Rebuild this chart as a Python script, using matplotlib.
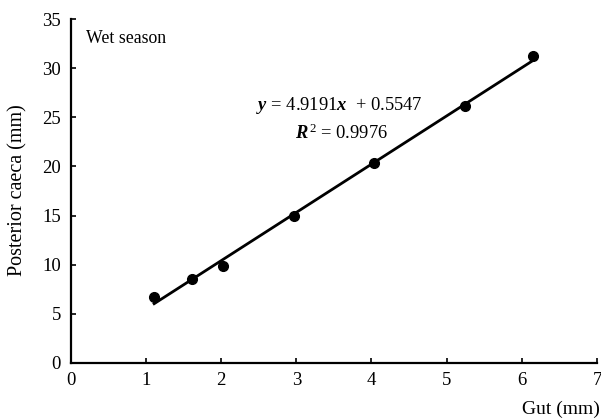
import matplotlib
matplotlib.use("Agg")
import matplotlib.pyplot as plt
import numpy as np

plt.rcParams['font.family'] = ['Liberation Serif', 'DejaVu Serif']
plt.rcParams['mathtext.fontset'] = 'custom'
plt.rcParams['mathtext.rm'] = 'Liberation Serif'
plt.rcParams['mathtext.it'] = 'Liberation Serif:italic'
plt.rcParams['mathtext.bf'] = 'Liberation Serif:bold'
plt.rcParams['mathtext.bfit'] = 'Liberation Serif:bold:italic'

gut = [1.11, 1.61, 2.03, 2.97, 4.04, 5.24, 6.155]
caeca = [6.73, 8.50, 9.89, 14.95, 20.33, 26.17, 31.26]
slope = 4.9191
intercept = 0.5547
r2 = 0.9976
xticks = [0, 1, 2, 3, 4, 5, 6, 7]
yticks = [0, 5, 10, 15, 20, 25, 30, 35]

fig = plt.figure(figsize=(6.01, 4.19), dpi=100)
ax = fig.add_axes([70.7/601, 1-362.7/419, (597-70.7)/601, (362.7-19.3)/419])

ax.plot(gut, caeca, 'o', color='black', markersize=7, zorder=3)
xf = np.array([gut[0], gut[-1]])
ax.plot(xf, slope*xf + intercept, color='black', linewidth=2, zorder=2)

ax.set_xlim(0, 7)
ax.set_ylim(0, 35)
ax.set_xticks(xticks)
ax.set_yticks(yticks)
ax.tick_params(axis='both', direction='in', length=3.5, width=1.2, labelsize=13.5, color='black')
ax.tick_params(axis='x', pad=7)
ax.tick_params(axis='y', pad=7)
for s in ['top', 'right']:
    ax.spines[s].set_visible(False)
for s in ['left', 'bottom']:
    ax.spines[s].set_linewidth(1.6)

fig.text(18/601, 1-190/419, 'Posterior caeca (mm)', rotation=90, ha='center', va='center', fontsize=14.5)
fig.text(600/601, 1-409/419, 'Gut (mm)', ha='right', va='center', fontsize=14)

fig.text(86/601, 1-38.3/419, 'Wet season', ha='left', va='center', fontsize=12.8)
fig.text(339/601, 1-105/419, r'$\boldsymbol{y}$ = 4.9191$\boldsymbol{x}$  + 0.5547', ha='center', va='center', fontsize=13.3)
fig.text(341/601, 1-133/419, r'$\boldsymbol{R}^{\,2}$ = 0.9976', ha='center', va='center', fontsize=13.3)

fig.savefig('out.png', dpi=100)
